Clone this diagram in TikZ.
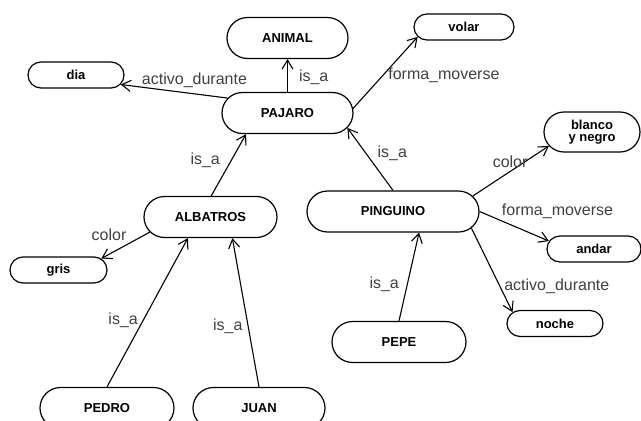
\documentclass[tikz,border=0pt]{standalone}
\usepackage{fontspec}
\setmainfont{Liberation Sans}
\usepackage{tikz}
\usetikzlibrary{shapes.misc,arrows.meta,positioning}

\begin{document}
\begin{tikzpicture}[x=1pt, y=-1pt,
    concept/.style={rounded rectangle, draw, line width=1.2pt, fill=white,
        font=\bfseries\fontsize{13}{12}\selectfont, align=center,
        minimum height=41pt, inner sep=0pt},
    val/.style={concept, minimum height=26pt},
    arr/.style={-{Straight Barb[length=9pt, width=11pt]}, line width=1.1pt},
    lbl/.style={font=\fontsize{16}{16}\selectfont, text=black!75, inner sep=1pt}
]
    \useasboundingbox (0,0) rectangle (641,421);

    % === Concepts ===
    \node[concept, minimum width=121pt] (animal) at (287.5,38) {ANIMAL};
    \node[concept, minimum width=131pt] (pajaro) at (287.5,113) {PAJARO};
    \node[concept, minimum width=133pt] (albatros) at (210.5,217) {ALBATROS};
    \node[concept, minimum width=172pt] (pinguino) at (393,211.5) {PINGUINO};
    \node[concept, minimum width=134pt] (pepe) at (399,342) {PEPE};
    \node[concept, minimum width=134pt] (pedro) at (107,408) {PEDRO};
    \node[concept, minimum width=132pt] (juan) at (259,408) {JUAN};

    % === Values ===
    \node[val, minimum width=96pt] (dia) at (76,75) {dia};
    \node[val, minimum width=100pt] (volar) at (464,27) {volar};
    \node[val, minimum width=97pt] (gris) at (58.5,270) {gris};
    \node[val, minimum width=96pt, minimum height=40pt] (blanco) at (592,132) {blanco\\y negro};
    \node[val, minimum width=94pt] (andar) at (594,249) {andar};
    \node[val, minimum width=96pt] (noche) at (555,323.5) {noche};

    % PAJARO
    \draw[arr] (pajaro.north) -- (animal.south)
        node[lbl, pos=0.45, right=10pt] {is\_a};
    \draw[arr] (pajaro.166) -- (dia.-12)
        node[lbl, pos=0.31, above=5pt] {activo\_durante};
    \draw[arr] (pajaro.4) -- (volar.192)
        node[lbl, pos=0.46, right=4pt] {forma\_moverse};

    % ALBATROS
    \draw[arr] (albatros.88) -- (pajaro.207)
        node[lbl, pos=0.58, left=10pt] {is\_a};
    \draw[arr] (albatros.194) -- (gris.15)
        node[lbl, pos=0.45, anchor=south east, yshift=2pt] {color};
    \draw[arr] (pedro.north) -- (albatros.223)
        node[lbl, pos=0.45, left=4pt] {is\_a};
    \draw[arr] (juan.north) -- (albatros.-44)
        node[lbl, pos=0.41, left=4pt] {is\_a};

    % PINGUINO
    \draw[arr] (pinguino.north) -- (pajaro.-14)
        node[lbl, pos=0.59, right=10pt] {is\_a};
    \draw[arr] (pinguino.11) -- (blanco.198)
        node[lbl, pos=0.49, above=2pt] {color};
    \draw[arr] (pinguino.east) -- (andar.170)
        node[lbl, pos=0.3, anchor=south west] {forma\_moverse};
    \draw[arr] (pinguino.-12) -- (noche.165)
        node[lbl, pos=0.69, right=3pt] {activo\_durante};
    \draw[arr] (pepe.north) -- (pinguino.-39)
        node[lbl, pos=0.42, left=7pt] {is\_a};
\end{tikzpicture}
\end{document}
